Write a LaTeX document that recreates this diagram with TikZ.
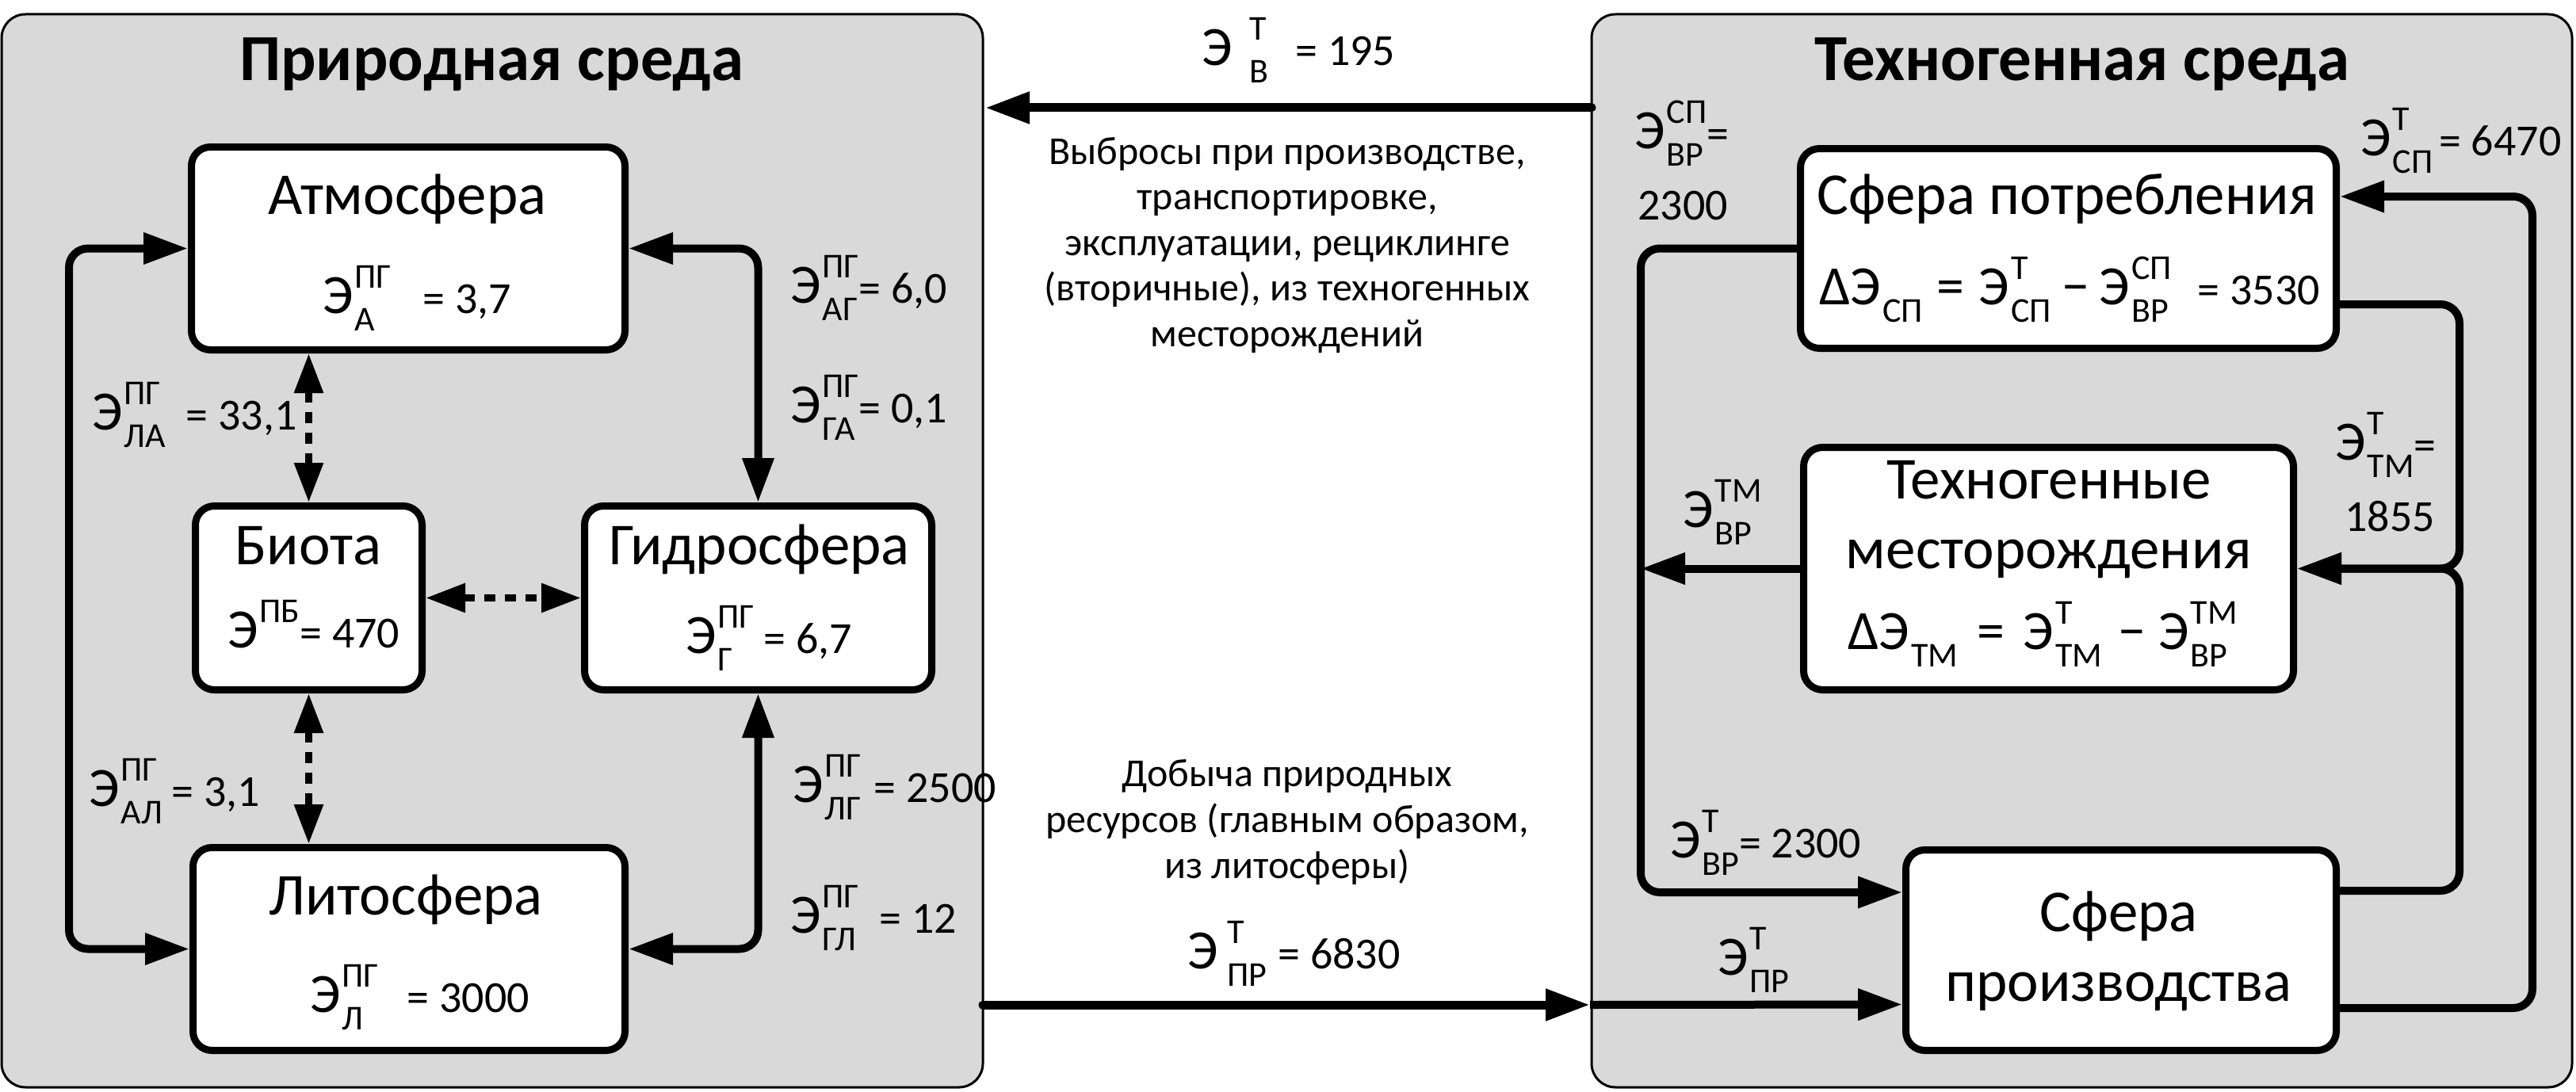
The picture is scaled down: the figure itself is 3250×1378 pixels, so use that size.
\documentclass[tikz,border=0pt]{standalone}
\usepackage{fontspec}
\setmainfont{Carlito}
\usetikzlibrary{arrows.meta}
\definecolor{panelgray}{RGB}{217,217,217}
\newcommand{\TitleF}{\fontsize{83}{83}\selectfont\bfseries}
\newcommand{\BoxF}{\fontsize{75}{75}\selectfont}
\newcommand{\MidF}{\fontsize{50}{50}\selectfont}
\newcommand{\ValF}{\fontsize{56}{56}\selectfont}
\newcommand{\BigF}{\fontsize{70}{70}\selectfont}
\newcommand{\ScrF}{\fontsize{44}{44}\selectfont}
\newcommand{\EE}[3][2pt]{{\BigF Э}\begingroup\setbox0\hbox{\ScrF #2}\setbox2\hbox{\ScrF #3}\kern#1\rlap{\raisebox{32pt}{\copy0}}\rlap{\raisebox{-22pt}{\copy2}}\ifdim\wd0>\wd2 \kern\wd0\else\kern\wd2\fi\endgroup}
\begin{document}
\begin{tikzpicture}[x=1pt,y=-1pt,
  >={Triangle[length=56pt,width=38pt]},
  panel/.style={draw=black, line width=3pt, fill=panelgray, rounded corners=30pt, inner sep=0pt},
  bx/.style={draw=black, line width=9pt, fill=white, rounded corners=24pt, inner sep=0pt},
  conn/.style={line width=10pt, rounded corners=24pt},
  xconn/.style={line width=11pt, line cap=round},
  dconn/.style={line width=9pt, dash pattern=on 14pt off 12pt, {Triangle[length=50pt,width=35pt]}-{Triangle[length=50pt,width=35pt]}},
  lab/.style={anchor=base west, inner sep=0pt, font=\ValF},
  ttl/.style={anchor=base, inner sep=0pt, font=\TitleF},
  nm/.style={anchor=base, inner sep=0pt, font=\BoxF},
  mid/.style={anchor=base, inner sep=0pt, font=\MidF}]
\useasboundingbox (0,0) rectangle (3250,1378);
\fill[white] (0,0) rectangle (3250,1378);
% panels
\node[panel, minimum width=1238pt, minimum height=1354pt] (lp) at (621,695) {};
\node[panel, minimum width=1237pt, minimum height=1354pt] (rp) at (2626.5,695) {};
\node[ttl] (t1) at (620,102) {Природная среда};
\node[ttl] (t2) at (2627,102) {Техногенная среда};
% boxes left
\node[bx, minimum width=547pt, minimum height=256pt] (atm) at (515,313.5) {};
\node[bx, minimum width=286pt, minimum height=232pt] (bio) at (389.5,754.5) {};
\node[bx, minimum width=438pt, minimum height=232pt] (hyd) at (956.5,754.5) {};
\node[bx, minimum width=545pt, minimum height=256pt] (lit) at (516,1197.5) {};
% boxes right
\node[bx, minimum width=676pt, minimum height=252pt] (con) at (2609.5,313.5) {};
\node[bx, minimum width=618pt, minimum height=306pt] (dep) at (2584.5,717.5) {};
\node[bx, minimum width=543pt, minimum height=253pt] (prd) at (2676,1199) {};
% box names
\node[nm] (n1) at (514,270) {Атмосфера};
\node[nm] (n2) at (389,712) {Биота};
\node[nm] (n3) at (958,712) {Гидросфера};
\node[nm] (n4) at (512,1154) {Литосфера};
\node[nm] (n5) at (2608,270) {Сфера потребления};
\node[nm] (n6) at (2585,629) {Техногенные};
\node[nm] (n7) at (2585,717) {месторождения};
\node[nm] (n8) at (2673,1175) {Сфера};
\node[nm] (n9) at (2673,1263) {производства};
% values in boxes
\node[lab] (vA) at (407,395) {\EE{ПГ}{А}\hspace{40pt}= 3,7};
\node[lab] (vB) at (287,817) {\EE{ПБ}{}= 470};
\node[lab] (vG) at (865,824) {\EE{ПГ}{Г}\hspace{12pt}= 6,7};
\node[lab] (vL) at (391,1277) {\EE{ПГ}{Л}\hspace{36pt}= 3000};
\node[lab] (eq1) at (2295,384) {{\BigF Δ}\EE{}{СП}\kern18pt{\BigF =}\kern18pt\EE{Т}{СП}\kern14pt{\BigF −}\kern12pt\EE{СП}{ВР}\kern33pt= 3530};
\node[lab] (eq2) at (2331,819) {{\BigF Δ}\EE{}{ТМ}\kern24pt{\BigF =}\kern24pt\EE{Т}{ТМ}\kern20pt{\BigF −}\kern16pt\EE{ТМ}{ВР}};
% left connectors
\draw[conn,<->] (atm.west) -- ++(-150,0) |- (lit.west);
\draw[conn,<->] (atm.east) -| (hyd.north);
\draw[conn,<->] (lit.east) -| (hyd.south);
\draw[dconn] (bio.north) -- (bio.north |- atm.south);
\draw[dconn] (bio.east) -- (hyd.west);
\draw[dconn] (bio.south) -- (bio.south |- lit.north);
% left labels
\node[lab] (lAG) at (997,382) {\EE{ПГ}{АГ}= 6,0};
\node[lab] (lGA) at (997,533) {\EE{ПГ}{ГА}= 0,1};
\node[lab] (lLA) at (116,542) {\EE{ПГ}{ЛА}\hspace{26pt}= 33,1};
\node[lab] (lAL) at (112,1017) {\EE{ПГ}{АЛ}\hspace{12pt}= 3,1};
\node[lab] (lLG) at (1000,1012) {\EE{ПГ}{ЛГ}\hspace{16pt}= 2500};
\node[lab] (lGL) at (997,1177) {\EE{ПГ}{ГЛ}\hspace{26pt}= 12};
% middle
\coordinate (topR) at (2008,136);
\coordinate (topL) at (1243,136);
\coordinate (botL) at (1240,1268);
\coordinate (botR) at (2006,1268);
\draw[xconn,->] (topR) -- (topL);
\draw[xconn,->] (botL) -- (botR);
\node[lab] (lV) at (1516,83) {\EE[22pt]{Т}{В}\hspace{34pt}= 195};
\node[lab] (lPR) at (1498,1222) {\EE[12pt]{Т}{ПР}\hspace{14pt}= 6830};
\node[mid] (m1) at (1624,207) {Выбросы при производстве,};
\node[mid] (m2) at (1624,264.5) {транспортировке,};
\node[mid] (m3) at (1624,322) {эксплуатации, рециклинге};
\node[mid] (m4) at (1624,379.5) {(вторичные), из техногенных};
\node[mid] (m5) at (1624,437) {месторождений};
\node[mid] (m6) at (1624,992) {Добыча природных};
\node[mid] (m7) at (1624,1050) {ресурсов (главным образом,};
\node[mid] (m8) at (1624,1108) {из литосферы)};
% right connectors
\draw[conn,->] (con.west) -- ++(-197,0) |- ([yshift=73pt]prd.west);
\draw[conn,->] (dep.west) -- ++(-201,0);
\draw[conn,->] ([yshift=-70.5pt]con.east) -- ++(151,0) |- (dep.east);
\draw[conn,->] ([yshift=75pt]prd.east) -- ++(151,0) |- (dep.east);
\draw[conn,->] ([yshift=-73pt]prd.east) -- ++(243,0) |- ([yshift=65.5pt]con.east);
\draw[conn,->] (botR) -- ([yshift=-68.5pt]prd.west);
% right labels
\node[lab] (rVRSP) at (2062,187) {\EE{СП}{ВР}= };
\node[lab] (rVRSPv) at (2066,277) {2300};
\node[lab] (rSPT) at (2978,196) {\EE{Т}{СП}\hspace{8pt}= 6470};
\node[lab] (rTMT) at (2946,580) {\EE{Т}{ТМ}= };
\node[lab] (rTMTv) at (2958,670) {1855};
\node[lab] (rVRTM) at (2123,665) {\EE{ТМ}{ВР}};
\node[lab] (rVRT) at (2107,1082) {\EE{Т}{ВР}= 2300};
\node[lab] (rPRT) at (2167,1230) {\EE{Т}{ПР}};
\end{tikzpicture}
\end{document}
